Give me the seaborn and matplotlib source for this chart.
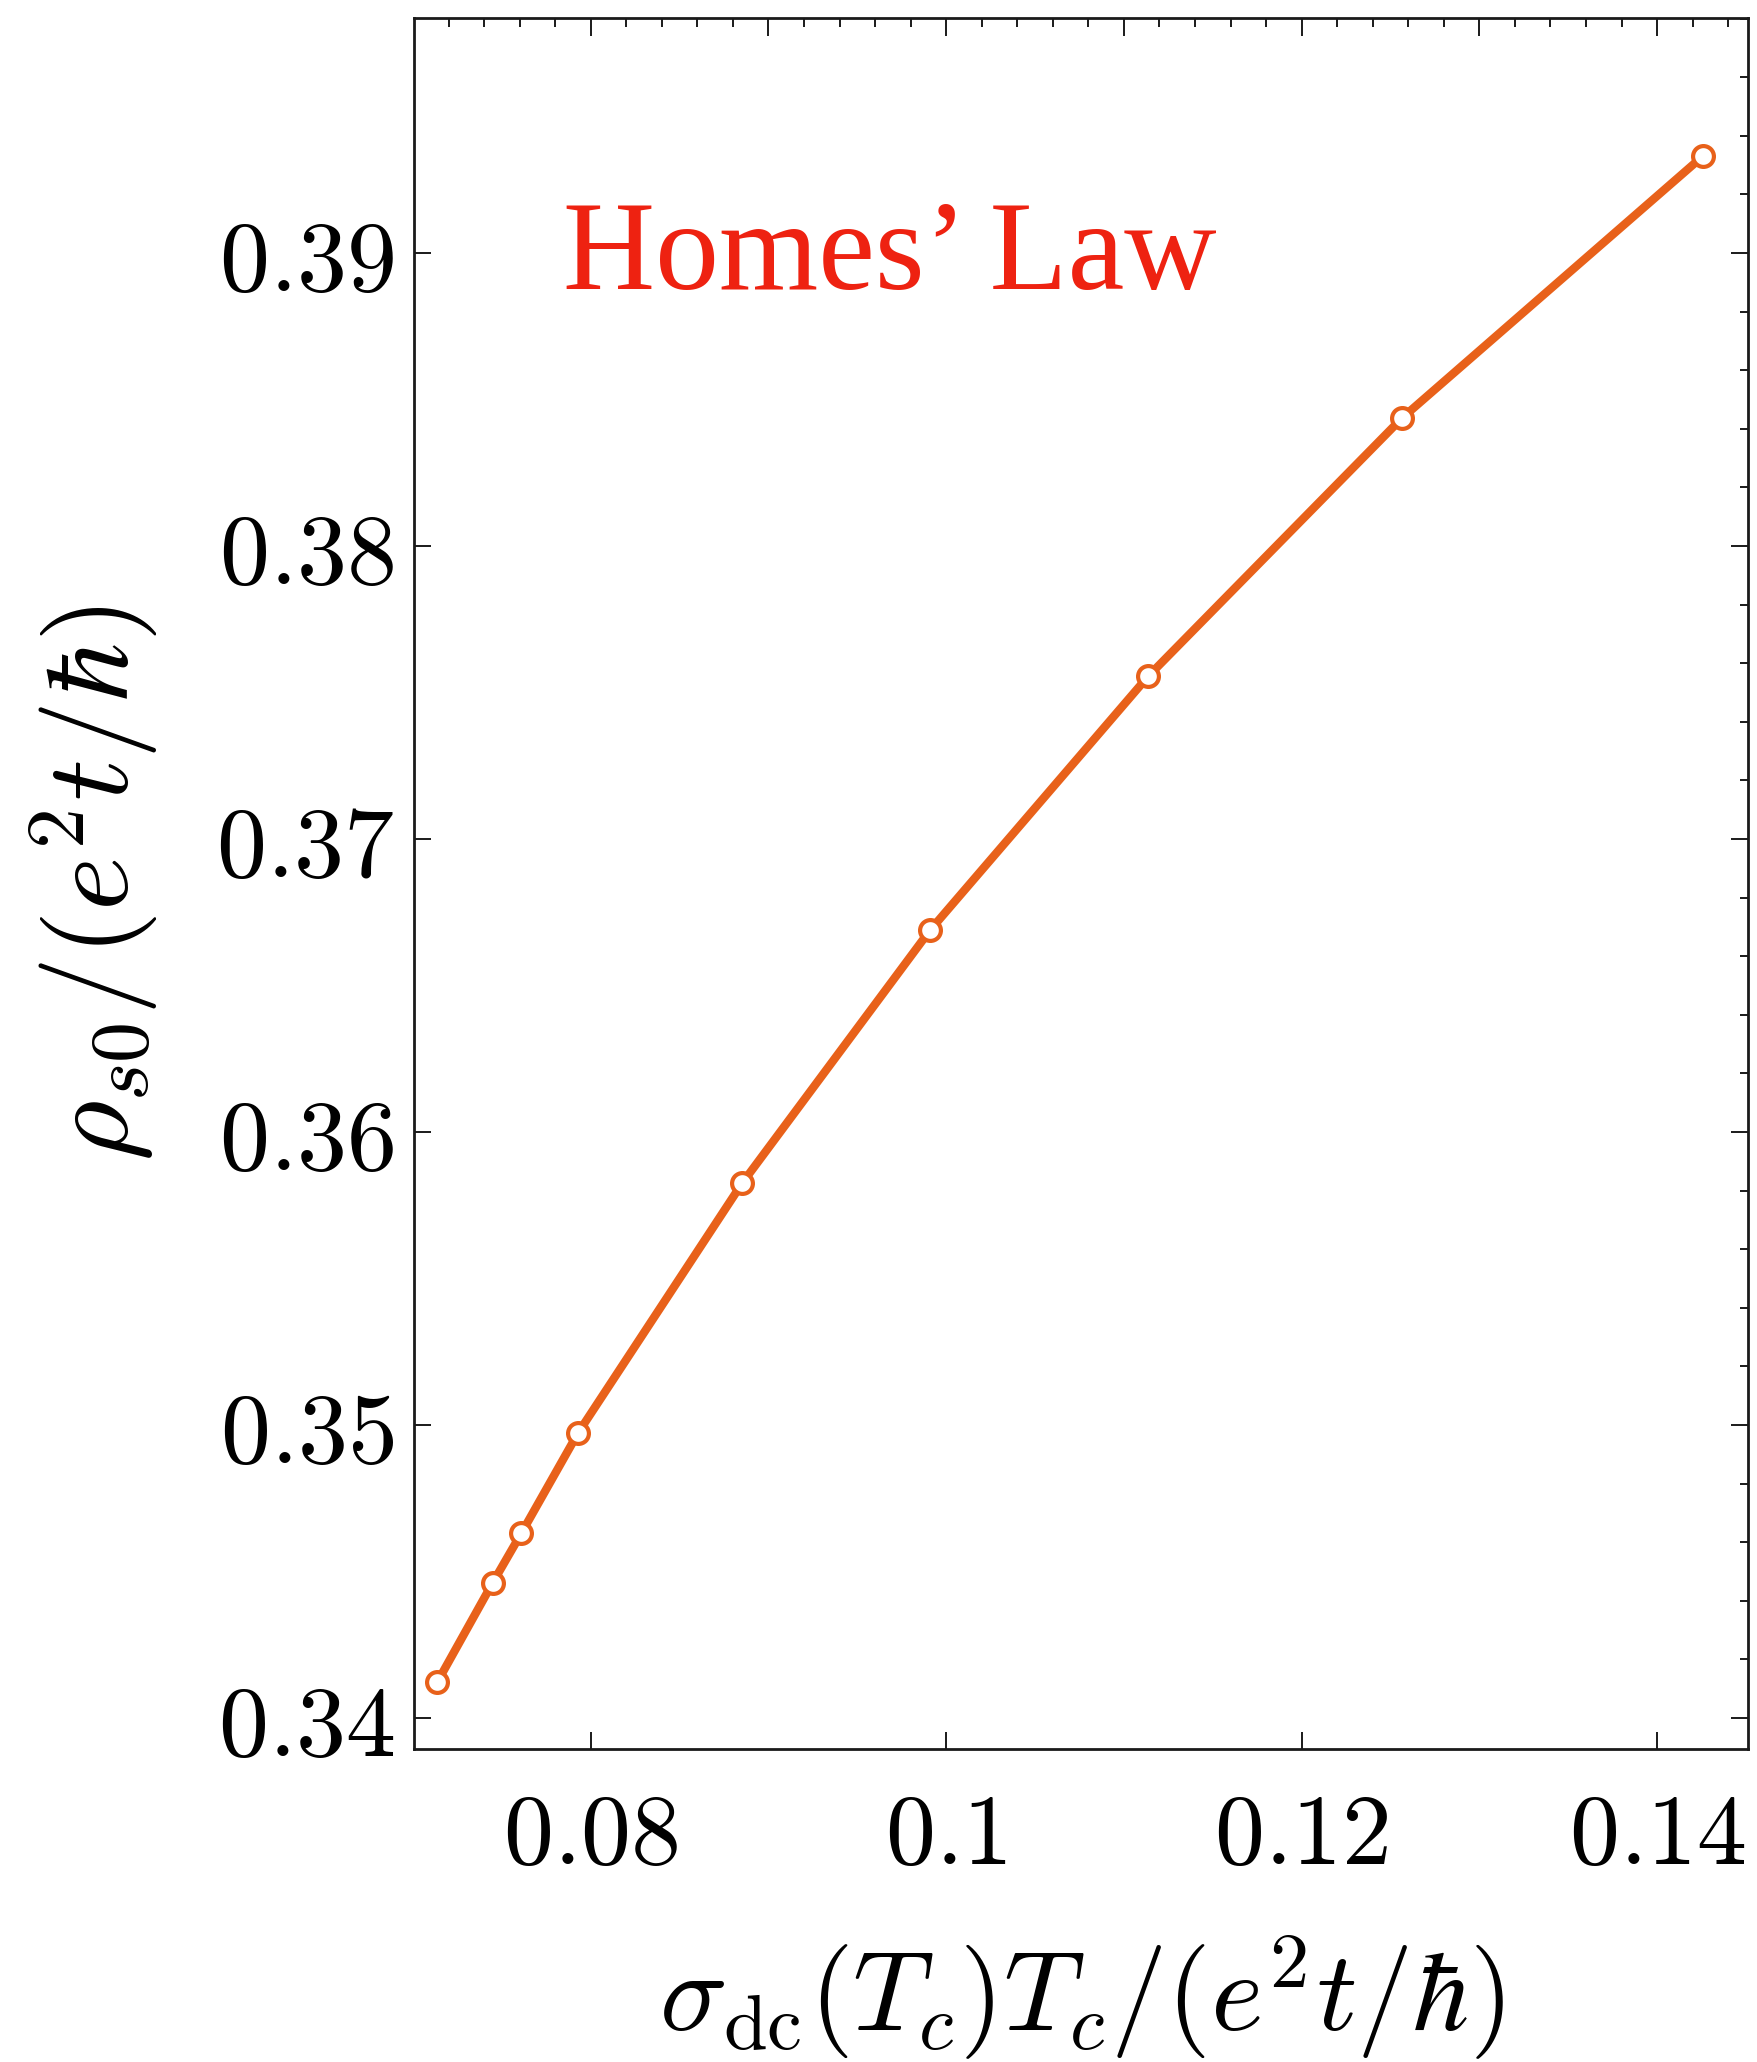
import matplotlib
matplotlib.use("Agg")
import pandas as pd
import matplotlib.pyplot as plt
import seaborn as sns
from matplotlib.ticker import FixedLocator, FixedFormatter, MultipleLocator

# data
sigma_tc = [0.07137, 0.07448, 0.07610, 0.07929, 0.08853, 0.09910, 0.11138, 0.12566, 0.14259]
rho_s0 = [0.34123, 0.34461, 0.34631, 0.34973, 0.35826, 0.36689, 0.37556, 0.38437, 0.39331]

x_ticks = [0.08, 0.10, 0.12, 0.14]
x_labels = ["0.08", "0.1", "0.12", "0.14"]
y_ticks = [0.34, 0.35, 0.36, 0.37, 0.38, 0.39]
y_labels = ["0.34", "0.35", "0.36", "0.37", "0.38", "0.39"]

orange = "#E8611A"
spine_col = "#1a1a1a"

sns.set_style("ticks")
plt.rcParams["mathtext.fontset"] = "cm"
plt.rcParams["font.family"] = ["DejaVu Sans"]
plt.rcParams["text.color"] = "black"
plt.rcParams["axes.labelcolor"] = "black"
plt.rcParams["xtick.color"] = "black"
plt.rcParams["ytick.color"] = "black"

fig = plt.figure(figsize=(17.57, 20.62), dpi=100)
ax = fig.add_axes([0.2356, 0.1518, 0.7593, 0.8395])

df = pd.DataFrame({"sigma": sigma_tc, "rho": rho_s0})
sns.lineplot(data=df, x="sigma", y="rho", ax=ax, color=orange, linewidth=6,
             marker="o", markersize=15, markerfacecolor="white",
             markeredgecolor=orange, markeredgewidth=3.0)

ax.set_xlim(0.07005, 0.14512)
ax.set_ylim(0.33894, 0.39802)

for s in ax.spines.values():
    s.set_visible(True)
    s.set_linewidth(2.0)
    s.set_color(spine_col)

# bottom / left: labelled major ticks only
ax.xaxis.set_major_locator(FixedLocator(x_ticks))
ax.xaxis.set_major_formatter(FixedFormatter(["$%s$" % t for t in x_labels]))
ax.yaxis.set_major_locator(FixedLocator(y_ticks))
ax.yaxis.set_major_formatter(FixedFormatter(["$%s$" % t for t in y_labels]))
ax.yaxis.set_minor_locator(MultipleLocator(0.002))
ax.tick_params(axis="x", which="major", direction="in", length=12, width=1.4,
               color=spine_col, labelcolor="black", labelsize=72, pad=28)
ax.tick_params(axis="y", which="major", direction="in", length=12, width=1.4,
               color=spine_col, labelcolor="black", labelsize=72, pad=14, right=True)
ax.tick_params(axis="y", which="minor", direction="in", length=6, width=1.4,
               color=spine_col, left=False, right=True)

# top frame ticks
top = ax.secondary_xaxis("top")
top.xaxis.set_major_locator(MultipleLocator(0.01))
top.xaxis.set_minor_locator(MultipleLocator(0.002))
top.tick_params(which="major", direction="in", length=13, width=1.4,
                color=spine_col, labeltop=False)
top.tick_params(which="minor", direction="in", length=6.5, width=1.4,
                color=spine_col)
top.spines["top"].set_visible(False)

ax.set_xlabel(r"$\sigma_{\mathrm{dc}}(T_c)T_c/(e^2t/\hbar)$", fontsize=81,
              labelpad=34, color="black")
ax.set_ylabel(r"$\rho_{s0}/(e^2t/\hbar)$", fontsize=84, labelpad=40, color="black")

ax.text(0.112, 0.8434, "Homes\u2019 Law", transform=ax.transAxes, color="#EE2211",
        fontsize=92, family=["Liberation Serif"], va="baseline", ha="left")

fig.savefig("out.png", dpi=100)
